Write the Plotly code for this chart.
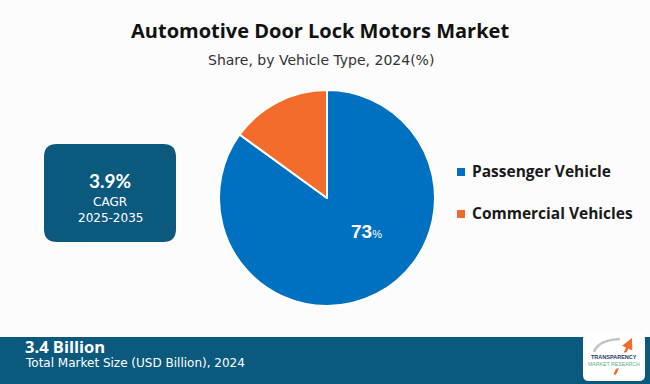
import plotly.graph_objects as go

# ---- data ----
categories = ["Passenger Vehicle", "Commercial Vehicles"]
shares = [85, 15]            # slice sizes as drawn in the reference
share_labels = ["73%"]       # label printed on the largest slice
colors = ["#0070C0", "#F36C2B"]
title = "Automotive Door Lock Motors Market"
subtitle = "Share, by Vehicle Type, 2024(%)"
cagr_value = "3.9%"
cagr_period = "2025-2035"
market_size = "3.4 Billion"
market_label = "Total Market Size (USD Billion), 2024"

W, H = 650, 384
BOX = "#0B5A7E"


def rrect(x0, y0, x1, y1, r):
    return (f"M {x0+r},{y0} L {x1-r},{y0} Q {x1},{y0} {x1},{y0+r} "
            f"L {x1},{y1-r} Q {x1},{y1} {x1-r},{y1} L {x0+r},{y1} "
            f"Q {x0},{y1} {x0},{y1-r} L {x0},{y0+r} Q {x0},{y0} {x0+r},{y0} Z")


fig = go.Figure()

# pie: centre (327,198) px, radius 108 px
cx, cy, R = 327, 198, 108
fig.add_trace(go.Pie(
    labels=categories, values=shares, sort=False, direction="clockwise",
    rotation=0, marker=dict(colors=colors, line=dict(color="white", width=2)),
    textinfo="none", hoverinfo="label+percent", showlegend=False,
    domain=dict(x=[(cx - R) / W, (cx + R) / W],
                y=[(H - cy - R) / H, (H - cy + R) / H]),
))

# invisible cartesian trace so pixel axes exist
fig.add_trace(go.Scatter(x=[None], y=[None], showlegend=False, hoverinfo="skip"))

shapes = []
annotations = []

# CAGR box
shapes.append(dict(type="path", path=rrect(44, 144, 176, 242, 13),
                   fillcolor=BOX, line=dict(width=0), xref="x", yref="y", layer="below"))
annotations += [
    dict(x=110, y=180, text=f"<b>{cagr_value}</b>", font=dict(size=19, color="white", family="Lato")),
    dict(x=110, y=202, text="CAGR", font=dict(size=12, color="white", family="DejaVu Sans")),
    dict(x=110, y=218, text=cagr_period, font=dict(size=12, color="white", family="DejaVu Sans")),
]

# footer band
shapes.append(dict(type="rect", x0=0, x1=W, y0=337, y1=H, fillcolor=BOX,
                   line=dict(width=0), xref="x", yref="y", layer="below"))
annotations += [
    dict(x=23, y=346, xanchor="left", text=f"<b>{market_size}</b>",
         font=dict(size=16.5, color="white", family="Open Sans")),
    dict(x=23, y=362.5, xanchor="left", text=market_label,
         font=dict(size=12, color="white", family="DejaVu Sans")),
]

# logo
shapes.append(dict(type="path", path=rrect(583, 333, 645, 381, 6),
                   fillcolor="white", line=dict(width=0), xref="x", yref="y"))
shapes.append(dict(type="path", path="M 594,352 Q 598,340 620,339",
                   line=dict(color="#C4C4C4", width=2.5), xref="x", yref="y"))
annotations += [
    dict(x=632, y=338, ax=614, ay=376, axref="x", ayref="y", text="", showarrow=True,
         arrowhead=2, arrowsize=0.9, arrowwidth=2.5, arrowcolor="#F36C2B"),
    dict(x=614, y=357, text="<b>TRANSPARENCY</b>", bgcolor="white",
         font=dict(size=5.5, color="#1F3864", family="Liberation Sans")),
    dict(x=614, y=364, text="MARKET RESEARCH", bgcolor="white",
         font=dict(size=5.2, color="#5BAE8A", family="Liberation Sans")),
]

# titles
annotations += [
    dict(x=320, y=30, text=f"<b>{title}</b>", font=dict(size=20, color="#111111", family="Open Sans")),
    dict(x=321, y=60, text=subtitle, font=dict(size=14, color="#333333", family="DejaVu Sans")),
]

# pie label
annotations.append(dict(x=366, y=231,
                        text=f"<b>{share_labels[0][:-1]}</b><span style='font-size:11px'>%</span>",
                        font=dict(size=19, color="white", family="Liberation Sans")))

# legend
leg_y = [171, 213]
for cat, col, yy in zip(categories, colors, leg_y):
    shapes.append(dict(type="rect", x0=457, x1=465, y0=yy - 3, y1=yy + 5,
                       fillcolor=col, line=dict(width=0), xref="x", yref="y"))
    annotations.append(dict(x=470, y=yy, xanchor="left", text=f"<b>{cat}</b>",
                            font=dict(size=15.5, color="#1A1A1A", family="Open Sans")))

for a in annotations:
    a.setdefault("xref", "x")
    a.setdefault("yref", "y")
    a.setdefault("showarrow", False)

fig.update_layout(
    width=W, height=H, margin=dict(l=0, r=0, t=0, b=0),
    paper_bgcolor="#FCFCFC", plot_bgcolor="rgba(0,0,0,0)",
    xaxis=dict(range=[0, W], visible=False, fixedrange=True, domain=[0, 1]),
    yaxis=dict(range=[H, 0], visible=False, fixedrange=True, domain=[0, 1]),
    shapes=shapes, annotations=annotations, showlegend=False,
)

fig.write_html("out.html", config={"displayModeBar": False},
               post_script="document.body.style.margin='0';document.body.style.padding='0';"
                           "document.body.style.overflow='hidden';")
